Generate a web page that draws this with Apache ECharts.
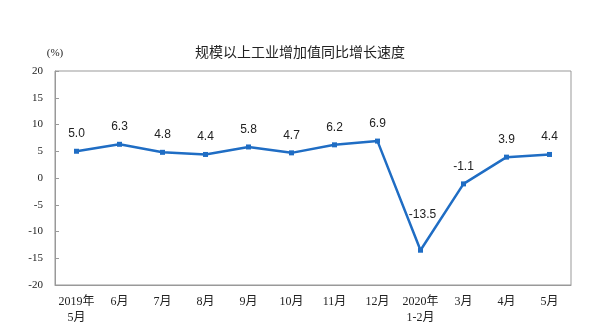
<!DOCTYPE html>
<html>
<head>
<meta charset="utf-8">
<script src="https://cdn.jsdelivr.net/npm/echarts@6/dist/echarts.min.js"></script>
<style>
  html, body { margin: 0; padding: 0; background: #fff; }
  #chart { width: 600px; height: 331px; }
</style>
</head>
<body>
<div id="chart"></div>
<script>
// Monthly year-on-year growth of industrial value added (%)
const months = ['2019年\n5月', '6月', '7月', '8月', '9月', '10月', '11月', '12月', '2020年\n1-2月', '3月', '4月', '5月'];
const growth = [5.0, 6.3, 4.8, 4.4, 5.8, 4.7, 6.2, 6.9, -13.5, -1.1, 3.9, 4.4];
const yTicks = { min: -20, max: 20, step: 5 };

const serif = '"Liberation Serif", "Times New Roman", "Noto Sans CJK SC", serif';
const sans = '"Liberation Sans", Arial, "Noto Sans CJK SC", sans-serif';

const chart = echarts.init(document.getElementById('chart'));
chart.setOption({
  animation: false,
  backgroundColor: '#fff',
  title: {
    text: '规模以上工业增加值同比增长速度',
    left: 'center',
    top: 40,
    textStyle: { fontFamily: '"Noto Sans CJK SC", sans-serif', fontSize: 14, fontWeight: 'normal', color: '#222' }
  },
  grid: { left: 55, right: 29, top: 71, bottom: 46, show: true, borderColor: '#999', borderWidth: 1 },
  xAxis: {
    type: 'category',
    data: months,
    boundaryGap: true,
    axisLine: { onZero: false, lineStyle: { color: '#999' } },
    axisTick: { inside: true, length: 4, lineStyle: { color: '#999' } },
    axisLabel: { fontFamily: serif, fontSize: 12, color: '#222', margin: 9, lineHeight: 16, interval: 0 }
  },
  yAxis: {
    type: 'value',
    min: yTicks.min,
    max: yTicks.max,
    interval: yTicks.step,
    name: '(%)',
    nameGap: 12,
    nameTextStyle: { fontFamily: serif, fontSize: 11, color: '#222', align: 'center', padding: [0, 0, 0, 0] },
    axisLine: { show: true, lineStyle: { color: '#999' } },
    axisTick: { show: true, inside: true, length: 4, lineStyle: { color: '#999' } },
    splitLine: { show: false },
    axisLabel: { fontFamily: serif, fontSize: 11, color: '#222', margin: 12 }
  },
  series: [{
    type: 'line',
    data: growth.map(v => ({
      value: v,
      label: v < -10 ? { offset: [2, -18] } : {}
    })),
    symbol: 'rect',
    symbolSize: 5,
    lineStyle: { color: '#1f6dc4', width: 2.5 },
    itemStyle: { color: '#1f6dc4' },
    label: {
      show: true,
      position: 'top',
      distance: 9,
      fontFamily: sans,
      fontSize: 12,
      color: '#222',
      formatter: p => p.value.toFixed(1)
    }
  }]
});
</script>
</body>
</html>
